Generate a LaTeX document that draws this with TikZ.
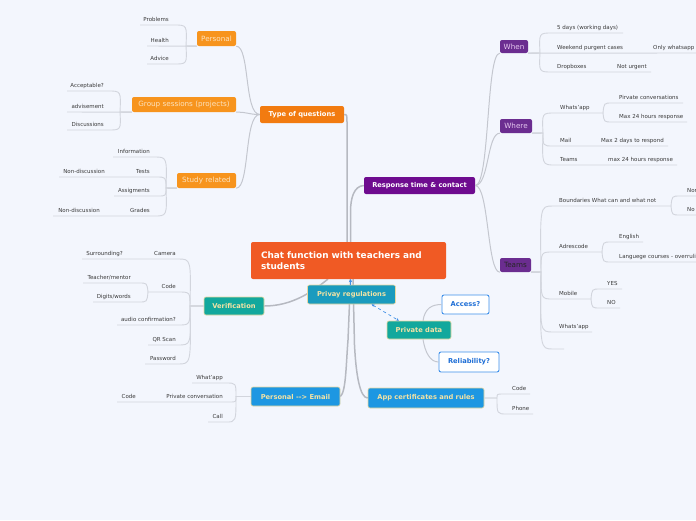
\documentclass[tikz,border=0pt]{standalone}
\usepackage{fontspec}
\setmainfont{DejaVu Sans}
\usetikzlibrary{arrows.meta}
\definecolor{bgc}{HTML}{F3F6FD}
\definecolor{leafline}{HTML}{D2D5DD}
\definecolor{mainline}{HTML}{B6B9C1}
\definecolor{childline}{HTML}{C4C7CF}
\definecolor{leaftxt}{HTML}{3A3A3A}
\definecolor{centralc}{HTML}{F05A24}
\definecolor{orangedark}{HTML}{F27B10}
\definecolor{orangelight}{HTML}{F7941D}
\definecolor{orangetxt}{HTML}{FCE2BE}
\definecolor{purpledark}{HTML}{6E0B8F}
\definecolor{purplec}{HTML}{6B2D90}
\definecolor{purpletxt}{HTML}{E6C8F0}
\definecolor{tealc}{HTML}{12A89D}
\definecolor{privayc}{HTML}{1A9BBE}
\definecolor{bluec}{HTML}{1D97E2}
\definecolor{paletxt}{HTML}{F3E3A5}
\definecolor{paleborder}{HTML}{EAD9A0}
\definecolor{accborder}{HTML}{3E90EA}
\definecolor{acctxt}{HTML}{1E6ED6}
\definecolor{arrowblue}{HTML}{3F8FE6}
\newcommand\lfont{\fontsize{5.5}{6.6}\selectfont}
\newcommand\bfont{\fontsize{6.7}{8}\selectfont\bfseries}
\newcommand\ofont{\fontsize{7.2}{8.5}\selectfont}
\newcommand\tfont{\fontsize{8.9}{11}\selectfont\bfseries}
\begin{document}
\begin{tikzpicture}[x=1pt,y=-1pt,
  box/.style={rectangle, rounded corners=2pt, inner sep=0pt, align=center},
  orbox/.style={box, fill=orangelight, text=orangetxt, font=\ofont, minimum height=15pt},
  pubox/.style={box, fill=purplec, text=purpletxt, font=\ofont},
  tlbox/.style={box, draw=paleborder, line width=0.6pt, text=paletxt, font=\bfont},
  wtbox/.style={box, fill=white, draw=accborder, line width=0.9pt, text=acctxt, font=\bfont},
  lleaf/.style={anchor=base east, inner sep=0pt, font=\lfont, text=leaftxt},
  rleaf/.style={anchor=base west, inner sep=0pt, font=\lfont, text=leaftxt},
  ll/.style={draw=leafline, line width=0.9pt},
  mc/.style={draw=mainline, line width=1.5pt},
  cc/.style={draw=childline, line width=1pt}]
\fill[bgc] (0,0) rectangle (696,520);
\useasboundingbox (0,0) rectangle (696,520);

\coordinate (pcentral) at (348.5,260.5);
\coordinate (cTop1) at (347,242);
\coordinate (cTop2) at (350.5,242);
\coordinate (cBot1) at (350.5,279);
\coordinate (cBot2) at (353,279);
\coordinate (cBot3) at (328,279);

\node[box, fill=orangedark, text=white, font=\bfont, minimum width=84pt, minimum height=17pt] (typeq) at (302,114.5) {Type of questions};
\node[orbox, minimum width=39pt] (personal) at (216.5,38.5) {Personal};
\node[orbox, minimum width=104pt] (group) at (184,104.5) {Group sessions (projects)};
\node[orbox, minimum width=59pt] (study) at (206.5,180.5) {Study related};
\node[box, fill=purpledark, text=white, font=\bfont, minimum width=111pt, minimum height=17pt] (resp) at (419.5,185.5) {Response time \& contact};
\node[pubox, minimum width=28pt, minimum height=13pt] (when) at (514,46.5) {When};
\node[pubox, minimum width=32pt, minimum height=14pt] (where) at (516,126) {Where};
\node[pubox, text=black!85, minimum width=31pt, minimum height=14pt] (teams) at (515.5,265) {Teams};

% connectors: type of questions / response to central
\draw[mc] (typeq.east) .. controls (347,114.5) .. (347,124) -- (cTop1);
\draw[mc] (resp.west) .. controls (354,186) and (350.5,198) .. (350.5,212) -- (cTop2);

% children of type of questions
\draw[cc] (personal.south east) .. controls (250,46) and (244,114.5) .. (typeq.west);
\draw[cc] (group.south east) .. controls (248,112) and (248,114.5) .. (typeq.west);
\draw[cc] (study.south east) .. controls (250,188) and (244,114.5) .. (typeq.west);

% children of response
\draw[cc] (resp.east) .. controls (490,185.5) and (486,53) .. (when.south west);
\draw[cc] (resp.east) .. controls (489,185.5) and (487,133) .. (where.south west);
\draw[cc] (resp.east) .. controls (489,185.5) and (487,272) .. (teams.south west);

% lower nodes
\node[tlbox, fill=tealc, minimum width=60pt, minimum height=18pt] (verif) at (234,306) {Verification};
\node[tlbox, fill=bluec, minimum width=89pt, minimum height=19pt] (email) at (295.5,396.5) {Personal -{}-{}> Email};
\node[tlbox, fill=bluec, minimum width=116pt, minimum height=20pt] (app) at (426,398) {App certificates and rules};

\draw[mc] (verif.east) .. controls (292,306) and (312,292) .. (cBot3);
\draw[mc] (email.east) .. controls (346,392) and (346,365) .. (348,340) -- (cBot1);
\draw[mc] (app.west) .. controls (360,398) and (356,375) .. (354.5,345) -- (cBot2);

\node[box, fill=centralc, minimum width=195pt, minimum height=37pt, text width=175pt, align=left, text=white, font=\tfont] (central) at (pcentral) {Chat function with teachers and\\students};
\node[tlbox, fill=privayc, minimum width=88pt, minimum height=19pt] (privay) at (351.5,294.5) {Privay regulations};
\node[tlbox, fill=tealc, minimum width=64pt, minimum height=18pt] (pdata) at (419,330) {Private data};
\node[wtbox, minimum width=47pt, minimum height=19pt] (access) at (465.5,304.5) {Access?};
\node[wtbox, minimum width=60pt, minimum height=20pt] (reliab) at (469,362) {Reliability?};

\draw[-{Stealth[length=3pt,width=3.5pt]}, draw=arrowblue, fill=arrowblue, line width=0.8pt] ([xshift=-1pt]privay.north) -- ([xshift=-1pt]privay.north |- central.south);
\draw[{Stealth[length=3pt,width=2.6pt]}-{Stealth[length=3pt,width=2.6pt]}, draw=arrowblue, dashed, line width=0.7pt] ([xshift=20pt]privay.south) -- ([xshift=-20pt]pdata.north);
\draw[cc] ([xshift=4pt]pdata.north) .. controls (425,308) and (432,304.5) .. (access.west);
\draw[cc] ([xshift=4pt]pdata.south) .. controls (425,352) and (430,362) .. (reliab.west);

% ---------- Personal leaves ----------
\node[lleaf] (problems) at (169,21.5) {Problems};
\node[lleaf] (health) at (169,42.5) {Health};
\node[lleaf] (advice) at (169,60.5) {Advice};
\draw[ll] (personal.south west) -- (186,46) .. controls (187,25) .. (174,25) -- (140,25);
\draw[ll] (personal.south west) -- (147,46);
\draw[ll] (personal.south west) -- (186,46) .. controls (187,64) .. (174,64) -- (147,64);

% ---------- Group leaves ----------
\node[lleaf] (accept) at (104,87.5) {Acceptable?};
\node[lleaf] (advis) at (104,108.5) {advisement};
\node[lleaf] (discuss) at (104,126.5) {Discussions};
\draw[ll] (group.south west) -- (120,112) .. controls (121,91) .. (108,91) -- (67,91);
\draw[ll] (group.south west) -- (67,112);
\draw[ll] (group.south west) -- (120,112) .. controls (121,130) .. (108,130) -- (67,130);

% ---------- Study leaves ----------
\node[lleaf] (info) at (150,153.5) {Information};
\node[lleaf] (tests) at (150,173.5) {Tests};
\node[lleaf] (nd1) at (105,173.5) {Non-discussion};
\node[lleaf] (assig) at (150,192.5) {Assigments};
\node[lleaf] (grades) at (150,212.5) {Grades};
\node[lleaf] (nd2) at (100,212.5) {Non-discussion};
\draw[ll] (study.south west) -- (166,188) .. controls (167,157) .. (154,157) -- (113,157);
\draw[ll] (study.south west) -- (166,188) .. controls (166,177) .. (156,177) -- (59,177);
\draw[ll] (study.south west) -- (166,188) .. controls (166,196) .. (158,196) -- (114,196);
\draw[ll] (study.south west) -- (166,188) .. controls (167,216) .. (154,216) -- (53,216);

% ---------- Verification leaves ----------
\node[lleaf] (camera) at (176,255.5) {Camera};
\node[lleaf] (surr) at (123,255.5) {Surrounding?};
\node[lleaf] (vcodet) at (176,288.5) {Code};
\node[lleaf] (teach) at (131,279.5) {Teacher/mentor};
\node[lleaf] (digits) at (131,298.5) {Digits/words};
\node[lleaf] (audio) at (176,321.5) {audio confirmation?};
\node[lleaf] (qr) at (176,341.5) {QR Scan};
\node[lleaf] (pass) at (176,360.5) {Password};
\coordinate (vcode) at (148,292);
\draw[ll] (verif.west) -- (190,306) .. controls (191,259) .. (178,259) -- (82,259);
\draw[ll] (verif.west) -- (190,306) .. controls (190,292) .. (178,292) -- (vcode);
\draw[ll] (vcode) .. controls (147,283) .. (139,283) -- (83,283);
\draw[ll] (vcode) .. controls (147,302) .. (139,302) -- (93,302);
\draw[ll] (verif.west) -- (190,306) .. controls (190,325) .. (178,325) -- (117,325);
\draw[ll] (verif.west) -- (190,306) .. controls (191,345) .. (178,345) -- (148,345);
\draw[ll] (verif.west) -- (190,306) .. controls (191,364) .. (178,364) -- (145,364);

% ---------- Email leaves ----------
\node[lleaf] (whatapp) at (223,379.5) {What'app};
\node[lleaf] (privconv) at (223,398.5) {Private conversation};
\node[lleaf] (ecode) at (136,398.5) {Code};
\node[lleaf] (call) at (223,418.5) {Call};
\draw[ll] (email.west) -- (236,396.5) .. controls (236,383) .. (226,383) -- (192,383);
\draw[ll] (email.west) -- (236,396.5) .. controls (236,402) .. (230,402) -- (117,402);
\draw[ll] (email.west) -- (236,396.5) .. controls (236,422) .. (226,422) -- (208,422);

% ---------- App leaves ----------
\node[rleaf] (acode) at (512,390.5) {Code};
\node[rleaf] (aphone) at (512,410.5) {Phone};
\draw[ll] (app.east) -- (497,398) .. controls (497,394) .. (503,394) -- (530,394);
\draw[ll] (app.east) -- (497,398) .. controls (497,414) .. (507,414) -- (533,414);

% ---------- When leaves ----------
\node[rleaf] (fived) at (557,29.5) {5 days (working days)};
\node[rleaf] (weekend) at (557,49.5) {Weekend purgent cases};
\node[rleaf] (onlyw) at (653,49.5) {Only whatsapp};
\node[rleaf] (dropb) at (557,68.5) {Dropboxes};
\node[rleaf] (noturg) at (617,68.5) {Not urgent};
\draw[ll] (when.south east) -- (540,53) .. controls (539,33) .. (552,33) -- (623,33);
\draw[ll] (when.south east) -- (696,53);
\draw[ll] (when.south east) -- (540,53) .. controls (539,72) .. (552,72) -- (651,72);

% ---------- Where leaves ----------
\node[rleaf] (wwat) at (560,109.5) {Whats'app};
\node[rleaf] (pirv) at (619,99.5) {Pirvate conversations};
\node[rleaf] (max24a) at (619,118.5) {Max 24 hours response};
\node[rleaf] (mail) at (560,142.5) {Mail};
\node[rleaf] (max2) at (601,142.5) {Max 2 days to respond};
\node[rleaf] (wteams) at (560,161.5) {Teams};
\node[rleaf] (max24b) at (608,161.5) {max 24 hours response};
\coordinate (wwa) at (603,113);
\draw[ll] (where.south east) -- (543,133) .. controls (542,113) .. (555,113) -- (wwa);
\draw[ll] (wwa) .. controls (604,103) .. (612,103) -- (683,103);
\draw[ll] (wwa) .. controls (604,122) .. (612,122) -- (687,122);
\draw[ll] (where.south east) -- (543,133) .. controls (543,146) .. (553,146) -- (668,146);
\draw[ll] (where.south east) -- (543,133) .. controls (542,165) .. (555,165) -- (677,165);

% ---------- Teams leaves ----------
\node[rleaf] (bound) at (559,202.5) {Boundaries What can and what not};
\node[rleaf] (nor) at (687,192.5) {Nor};
\node[rleaf] (no) at (687,211.5) {No};
\node[rleaf] (adres) at (559,248.5) {Adrescode};
\node[rleaf] (engl) at (619,238.5) {English};
\node[rleaf] (lang) at (619,258.5) {Languege courses - overruli};
\node[rleaf] (mobile) at (559,295.5) {Mobile};
\node[rleaf] (yes) at (607,285.5) {YES};
\node[rleaf] (nono) at (607,304.5) {NO};
\node[rleaf] (twa) at (559,328.5) {Whats'app};
\coordinate (tb) at (671,206);
\coordinate (tad) at (602,252);
\coordinate (tmo) at (591,299);
\draw[ll] (teams.south east) -- (541,272) .. controls (540,206) .. (553,206) -- (tb);
\draw[ll] (tb) .. controls (672,196) .. (680,196) -- (696,196);
\draw[ll] (tb) .. controls (672,215) .. (680,215) -- (696,215);
\draw[ll] (teams.south east) -- (541,272) .. controls (541,252) .. (553,252) -- (tad);
\draw[ll] (tad) .. controls (603,242) .. (611,242) -- (643,242);
\draw[ll] (tad) .. controls (603,262) .. (611,262) -- (696,262);
\draw[ll] (teams.south east) -- (541,272) .. controls (541,299) .. (553,299) -- (tmo);
\draw[ll] (tmo) .. controls (592,289) .. (600,289) -- (622,289);
\draw[ll] (tmo) .. controls (592,308) .. (600,308) -- (620,308);
\draw[ll] (teams.south east) -- (541,272) .. controls (540,332) .. (553,332) -- (592,332);
\draw[ll] (teams.south east) -- (541,272) .. controls (540,349) .. (553,349) -- (564,349);
\end{tikzpicture}
\end{document}
